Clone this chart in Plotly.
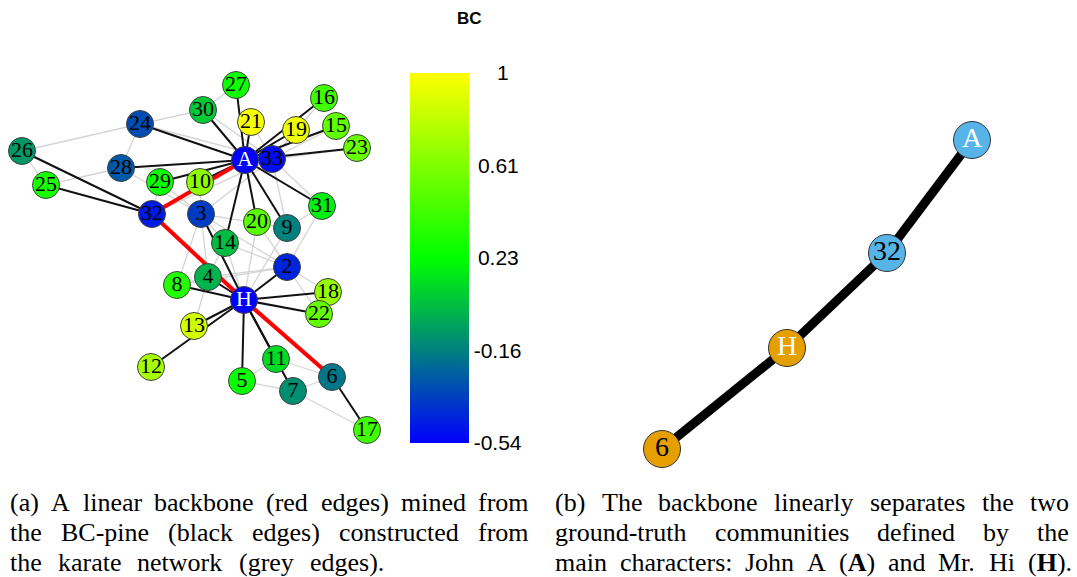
import re
import plotly.graph_objects as go

FIG_W, FIG_H = 1077, 577

# ---------------------------------------------------------------------------
# Karate club network: H = Mr. Hi (member 1), A = John A (member 34)
# ---------------------------------------------------------------------------
node_labels = ["H"] + [str(i) for i in range(2, 34)] + ["A"]

# normalised betweenness-centrality score of each member
bc_values = {
    "H": -0.54, "A": -0.54, "33": -0.50, "32": -0.46, "2": -0.43, "3": -0.36,
    "24": -0.31, "28": -0.27, "6": -0.18, "9": -0.15, "7": -0.11, "26": -0.08,
    "4": 0.00, "14": 0.03, "30": 0.07, "11": 0.12, "31": 0.18, "29": 0.26,
    "27": 0.27, "5": 0.25, "25": 0.30, "8": 0.33, "16": 0.42, "17": 0.42,
    "20": 0.50, "15": 0.52, "22": 0.53, "23": 0.55, "10": 0.66, "18": 0.68,
    "12": 0.73, "13": 0.86, "19": 0.95, "21": 0.98,
}

# force-directed layout coordinates of the members
layout_x = {
    "A": 245, "33": 272, "H": 244, "32": 152, "24": 140, "26": 22, "25": 46,
    "28": 121, "29": 160, "10": 200, "3": 201, "27": 236, "30": 203, "21": 251,
    "19": 296, "16": 324, "15": 336, "23": 357, "31": 322, "20": 257, "9": 287,
    "14": 225, "2": 287, "4": 208, "8": 177, "18": 328, "22": 319, "13": 194,
    "12": 151, "11": 276, "5": 242, "7": 293, "6": 332, "17": 367,
}
layout_y = {
    "A": 160, "33": 159, "H": 300, "32": 214, "24": 124, "26": 151, "25": 185,
    "28": 168, "29": 182, "10": 182, "3": 214, "27": 85, "30": 110, "21": 122,
    "19": 130, "16": 98, "15": 126, "23": 148, "31": 206, "20": 222, "9": 228,
    "14": 243, "2": 267, "4": 277, "8": 285, "18": 292, "22": 314, "13": 326,
    "12": 367, "11": 359, "5": 381, "7": 391, "6": 377, "17": 430,
}

# Zachary karate club friendships (78 ties)
karate_edges = [
    ("H", "2"), ("H", "3"), ("H", "4"), ("H", "5"), ("H", "6"), ("H", "7"),
    ("H", "8"), ("H", "9"), ("H", "11"), ("H", "12"), ("H", "13"), ("H", "14"),
    ("H", "18"), ("H", "20"), ("H", "22"), ("H", "32"),
    ("2", "3"), ("2", "4"), ("2", "8"), ("2", "14"), ("2", "18"), ("2", "20"),
    ("2", "22"), ("2", "31"),
    ("3", "4"), ("3", "8"), ("3", "9"), ("3", "10"), ("3", "14"), ("3", "28"),
    ("3", "29"), ("3", "33"),
    ("4", "8"), ("4", "13"), ("4", "14"),
    ("5", "7"), ("5", "11"),
    ("6", "7"), ("6", "11"), ("6", "17"),
    ("7", "17"),
    ("9", "31"), ("9", "33"), ("9", "A"),
    ("10", "A"), ("14", "A"),
    ("15", "33"), ("15", "A"), ("16", "33"), ("16", "A"),
    ("19", "33"), ("19", "A"), ("20", "A"), ("21", "33"), ("21", "A"),
    ("23", "33"), ("23", "A"),
    ("24", "26"), ("24", "28"), ("24", "30"), ("24", "33"), ("24", "A"),
    ("25", "26"), ("25", "28"), ("25", "32"),
    ("26", "32"), ("27", "30"), ("27", "A"), ("28", "A"),
    ("29", "32"), ("29", "A"), ("30", "33"), ("30", "A"),
    ("31", "33"), ("31", "A"), ("32", "33"), ("32", "A"), ("33", "A"),
]

# BC-pine spanning tree (without the backbone ties)
pine_edges = [
    ("A", "9"), ("A", "10"), ("A", "14"), ("A", "15"), ("A", "16"), ("A", "19"),
    ("A", "20"), ("A", "21"), ("A", "23"), ("A", "24"), ("A", "27"), ("A", "28"),
    ("A", "29"), ("A", "30"), ("A", "31"), ("A", "33"),
    ("H", "2"), ("H", "3"), ("H", "4"), ("H", "5"), ("H", "7"), ("H", "8"),
    ("H", "11"), ("H", "12"), ("H", "13"), ("H", "18"), ("H", "22"),
    ("32", "25"), ("32", "26"), ("6", "17"),
]

# linear backbone mined from the pine
backbone_nodes = ["6", "H", "32", "A"]
backbone_edges = [("A", "32"), ("32", "H"), ("H", "6")]
backbone_community = {"6": "Mr. Hi", "H": "Mr. Hi", "32": "John A", "A": "John A"}
backbone_x = {"6": 662, "H": 787, "32": 887, "A": 972}
backbone_y = {"6": 449, "H": 348, "32": 253, "A": 140}

colorbar_ticks = [-0.54, -0.155, 0.23, 0.615, 1.0]
colorbar_ticktext = ["-0.54", "-0.16", "\u20090.23", "\u20090.61", "\u2007\u20071"]

caption_a = [
    "(a) A linear backbone (red edges) mined from",
    "the BC-pine (black edges) constructed from",
    "the karate network (grey edges).",
]
caption_b = [
    "(b) The backbone linearly separates the two",
    "ground-truth communities defined by the",
    "main characters: John A (<b>A</b>) and Mr. Hi (<b>H</b>).",
]

# ---------------------------------------------------------------------------
BC_SCALE = [[0.0, "rgb(0,0,255)"], [0.5, "rgb(0,255,0)"], [1.0, "rgb(255,255,0)"]]
COMMUNITY_COLOR = {"Mr. Hi": "#E69F00", "John A": "#56B4E9"}


def norm(e):
    return tuple(sorted(e))


special = {norm(e) for e in pine_edges} | {norm(e) for e in backbone_edges}
grey_edges = [e for e in karate_edges if norm(e) not in special]


def edge_xy(edges, xs, ys):
    ex, ey = [], []
    for a, b in edges:
        ex += [xs[a], xs[b], None]
        ey += [ys[a], ys[b], None]
    return ex, ey


fig = go.Figure()

for edges, color, width in [
    (grey_edges, "#d4d4d4", 1.3),
    (pine_edges, "#111111", 2.0),
    (backbone_edges, "#ff0000", 4.0),
]:
    ex, ey = edge_xy(edges, layout_x, layout_y)
    fig.add_trace(go.Scatter(x=ex, y=ey, mode="lines", hoverinfo="skip",
                             line=dict(color=color, width=width), showlegend=False))

fig.add_trace(go.Scatter(
    x=[layout_x[n] for n in node_labels],
    y=[layout_y[n] for n in node_labels],
    mode="markers+text",
    text=node_labels,
    textposition="middle center",
    textfont=dict(family="Liberation Serif", size=22,
                  color=["white" if n in ("A", "H") else "black" for n in node_labels]),
    marker=dict(
        size=27,
        color=[bc_values[n] for n in node_labels],
        colorscale=BC_SCALE, cmin=-0.54, cmax=1.0,
        line=dict(color="#404040", width=1),
        colorbar=dict(
            thickness=59, thicknessmode="pixels",
            len=370, lenmode="pixels",
            x=410 / FIG_W, xanchor="left", xpad=0,
            y=1 - 443 / FIG_H, yanchor="bottom", ypad=0,
            outlinewidth=0, ticks="",
            tickvals=colorbar_ticks, ticktext=colorbar_ticktext,
            tickfont=dict(family="Liberation Sans", size=21, color="black"),
        ),
    ),
    showlegend=False, hoverinfo="text",
))

# backbone panel
bx, by = edge_xy(backbone_edges, backbone_x, backbone_y)
fig.add_trace(go.Scatter(x=bx, y=by, mode="lines", hoverinfo="skip",
                         line=dict(color="black", width=9), showlegend=False))
fig.add_trace(go.Scatter(
    x=[backbone_x[n] for n in backbone_nodes],
    y=[backbone_y[n] for n in backbone_nodes],
    mode="markers+text",
    text=backbone_nodes,
    textposition="middle center",
    textfont=dict(family="Liberation Serif", size=28,
                  color=["white" if n in ("A", "H") else "black" for n in backbone_nodes]),
    marker=dict(size=37, color=[COMMUNITY_COLOR[backbone_community[n]] for n in backbone_nodes],
                line=dict(color="#333333", width=1)),
    showlegend=False, hoverinfo="text",
))

# colorbar title
fig.add_annotation(x=469 / FIG_W, y=1 - 19 / FIG_H, xref="paper", yref="paper",
                   text="<b>BC</b>", showarrow=False, xanchor="center", yanchor="middle",
                   font=dict(family="Liberation Sans", size=17, color="black"))

# ---------------------------------------------------------------------------
# justified captions (Liberation Serif advance widths, in em)
REG = {
    " ": .250, "(": .333, ")": .333, "-": .333, ".": .250, ":": .278,
    "A": .722, "B": .667, "C": .667, "H": .722, "J": .389, "M": .889, "T": .611,
    "a": .444, "b": .500, "c": .444, "d": .500, "e": .444, "f": .333, "g": .500,
    "h": .500, "i": .278, "j": .278, "k": .500, "l": .278, "m": .778, "n": .500,
    "o": .500, "p": .500, "r": .333, "s": .389, "t": .278, "u": .500, "v": .500,
    "w": .722, "x": .500, "y": .500,
}
BOLD = {"A": .722, "H": .778}
CAP_FONT = 26


def text_width(word, size):
    w, bold = 0.0, False
    for tok in re.split(r"(</?b>)", word):
        if tok == "<b>":
            bold = True
        elif tok == "</b>":
            bold = False
        else:
            for ch in tok:
                w += (BOLD.get(ch, .75) if bold else REG.get(ch, .5)) * size
    return w


def add_caption(lines, left, rights, centers):
    for line, yc, right in zip(lines, centers, rights):
        words = line.split(" ")
        widths = [text_width(w, CAP_FONT) for w in words]
        gap = (right - left - sum(widths)) / (len(words) - 1)
        x = left
        for i, (w, ww) in enumerate(zip(words, widths)):
            last = i == len(words) - 1
            fig.add_annotation(
                x=(right if last else x) / FIG_W, y=1 - yc / FIG_H,
                xref="paper", yref="paper", text=w, showarrow=False,
                xanchor="right" if last else "left", yanchor="middle",
                borderpad=0, borderwidth=0,
                font=dict(family="Liberation Serif", size=CAP_FONT, color="black"),
            )
            x += ww + gap


add_caption(caption_a, 10, [529, 529, 384], [502, 532, 562])
add_caption(caption_b, 555, [1069, 1069, 1072], [502, 532, 562])

fig.update_layout(
    width=FIG_W, height=FIG_H,
    margin=dict(l=0, r=0, t=0, b=0),
    paper_bgcolor="white", plot_bgcolor="white",
    xaxis=dict(range=[0, FIG_W], visible=False, domain=[0, 1]),
    yaxis=dict(range=[FIG_H, 0], visible=False, domain=[0, 1]),
)

fig.write_html("out.html")
